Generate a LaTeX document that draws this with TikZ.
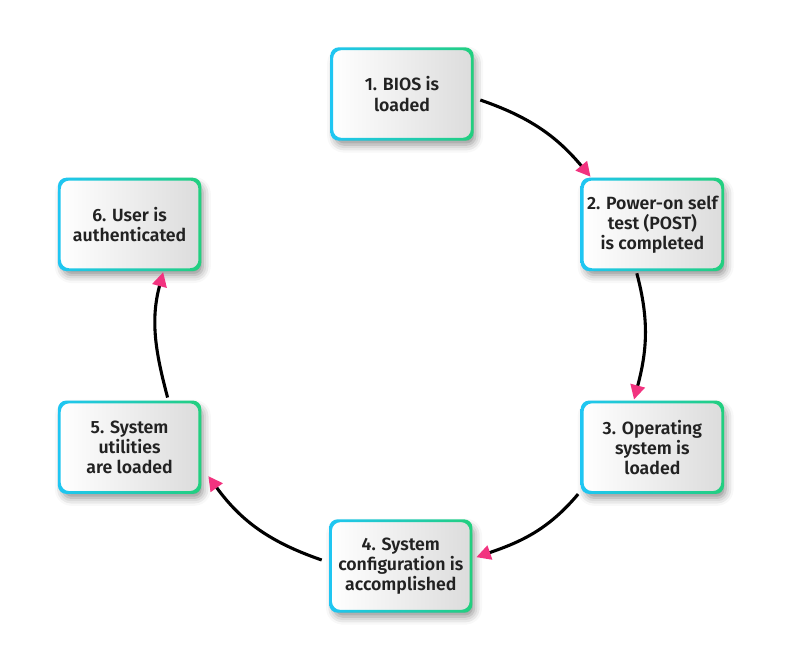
\documentclass[tikz,border=0pt]{standalone}
\usepackage{fontspec}
\setmainfont{Fira Sans}[BoldFont={Fira Sans SemiBold}]
\usetikzlibrary{arrows.meta,positioning,shadows.blur}

\definecolor{edgecyan}{HTML}{1FC6F3}
\definecolor{edgegreen}{HTML}{22CF7E}
\definecolor{boxgray}{HTML}{DCDCDC}
\definecolor{tippink}{HTML}{F2337F}
\definecolor{inkgray}{HTML}{222222}

\begin{document}
\begin{tikzpicture}[on grid,
    stepbox/.style={rectangle,rounded corners=6pt,minimum width=3.5cm,minimum height=2.25cm,
        left color=white,right color=boxgray,align=center,text=inkgray,
        font=\fontsize{12.6}{14.3}\selectfont\bfseries,
        blur shadow={shadow xshift=0.08cm,shadow yshift=-0.14cm,shadow blur radius=0.2cm,shadow opacity=45}},
    flow/.style={line width=2.2pt,-{Triangle[length=0.36cm,width=0.36cm,color=tippink]}}]
    \useasboundingbox (0,0) rectangle (19.9,-16.45);
    \node[stepbox] (S1) at (10.05,-2.35) {1. BIOS is\\loaded};
    \node[stepbox] (S2) [below right=3.26cm and 6.26cm of S1] {2. Power-on self\\test (POST)\\is completed};
    \node[stepbox] (S3) [below=5.57cm of S2] {3. Operating\\system is\\loaded};
    \node[stepbox] (S4) [below left=2.97cm and 6.29cm of S3] {4. System\\configuration is\\accomplished};
    \node[stepbox] (S6) [below left=3.26cm and 6.81cm of S1] {6. User is\\authenticated};
    \node[stepbox] (S5) [below=5.57cm of S6] {5. System\\utilities\\are loaded};
    % cyan to green frame
    \foreach \i in {1,...,6}
        \shade[left color=edgecyan,right color=edgegreen,even odd rule,rounded corners=6pt]
            ([shift={(-0.035cm,0.035cm)}]S\i.north west) rectangle ([shift={(0.035cm,-0.035cm)}]S\i.south east)
            ([shift={(0.035cm,-0.035cm)}]S\i.north west) rectangle ([shift={(-0.035cm,0.035cm)}]S\i.south east);
    \path[flow]
        ([shift={(0.2cm,-0.15cm)}]S1.east) edge [out=-19,in=130] ([shift={(0.21cm,0.06cm)}]S2.north west)
        ([shift={(-0.39cm,-0.09cm)}]S2.south) edge [out=-75,in=75] ([shift={(-0.46cm,0.06cm)}]S3.north)
        ([shift={(-0.1cm,-0.04cm)}]S3.south west) edge [out=-130,in=19] ([shift={(0.13cm,0.22cm)}]S4.east)
        ([shift={(-0.22cm,0.15cm)}]S4.west) edge [out=161,in=-54] ([shift={(0.21cm,0.41cm)}]S5.south east)
        ([shift={(0.95cm,0.11cm)}]S5.north) edge [out=105,in=-105] ([shift={(0.84cm,-0.06cm)}]S6.south);
\end{tikzpicture}
\end{document}
